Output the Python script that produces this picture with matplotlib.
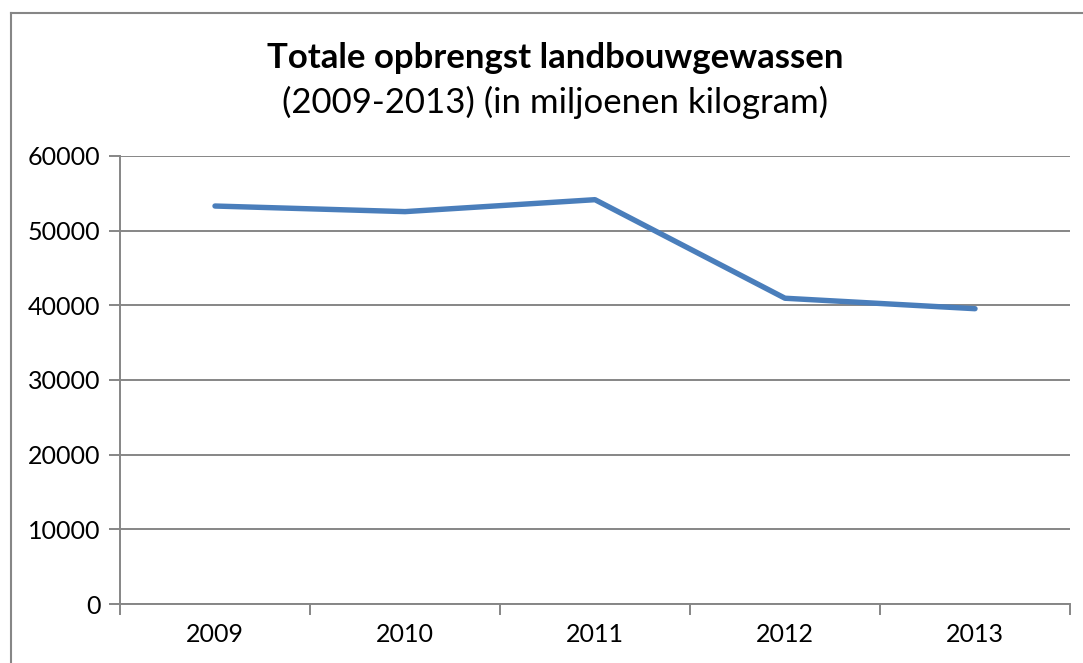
import matplotlib.pyplot as plt
from matplotlib.lines import Line2D

years = ['2009', '2010', '2011', '2012', '2013']
opbrengst = [53300, 52550, 54150, 40950, 39550]
yticks = [0, 10000, 20000, 30000, 40000, 50000, 60000]

plt.rcParams['font.family'] = ['Lato', 'DejaVu Sans']
grey = '#868686'

fig = plt.figure(figsize=(10.83, 6.63), dpi=100)
ax = fig.add_axes([120 / 1083, 1 - 604 / 663, 950 / 1083, 448 / 663])

x = list(range(len(years)))
ax.plot(x, opbrengst, color='#4A7EBB', lw=3.9, solid_capstyle='round',
        solid_joinstyle='round', zorder=3)

ax.set_xlim(-0.5, len(years) - 0.5)
ax.set_ylim(0, 60000)
ax.set_yticks(yticks)
ax.set_yticklabels([str(v) for v in yticks])
ax.set_xticks(x)
ax.set_xticklabels(years)
ax.set_xticks([i - 0.5 for i in range(len(years) + 1)], minor=True)

ax.grid(axis='y', color=grey, lw=1.4)
ax.set_axisbelow(True)
for s in ['top', 'right']:
    ax.spines[s].set_visible(False)
for s in ['left', 'bottom']:
    ax.spines[s].set_color(grey)
    ax.spines[s].set_linewidth(1.4)

ax.tick_params(axis='y', length=8, color=grey, width=1.4, labelsize=18, pad=6)
ax.tick_params(axis='x', which='major', length=0, labelsize=18, pad=14)
ax.tick_params(axis='x', which='minor', length=8, color=grey, width=1.4)

fig.text(555 / 1083, 1 - 58 / 663, 'Totale opbrengst landbouwgewassen',
         ha='center', va='center', fontsize=25, fontweight='bold')
fig.text(555 / 1083, 1 - 102 / 663, '(2009-2013) (in miljoenen kilogram)',
         ha='center', va='center', fontsize=25)

# chart area border (only left and top visible in the crop)
fig.add_artist(Line2D([11 / 1083, 11 / 1083], [0, 1 - 13 / 663],
                      color=grey, lw=1.5, transform=fig.transFigure))
fig.add_artist(Line2D([11 / 1083, 1], [1 - 13 / 663, 1 - 13 / 663],
                      color=grey, lw=1.5, transform=fig.transFigure))

fig.savefig('out.png', dpi=100, facecolor='white')
